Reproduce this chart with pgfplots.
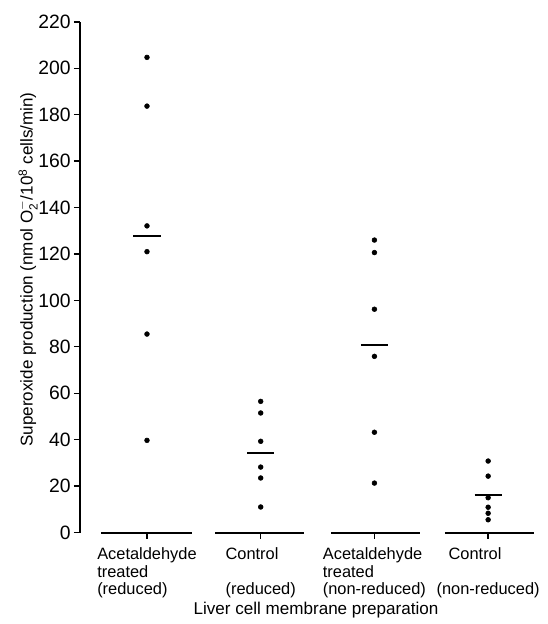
\documentclass[border=0pt]{standalone}
\usepackage{pgfplots}
\pgfplotsset{compat=1.18}
\usepackage{fontspec}
\setmainfont{Liberation Sans}
\begin{document}
\begin{tikzpicture}
\path[use as bounding box] (-60pt,-68.6pt) rectangle (351pt,399.4pt);
\begin{axis}[
    at={(0,0)}, anchor=south west,
    scale only axis,
    width=345pt, height=383pt,
    xmin=-0.589, xmax=3.456,
    ymin=0, ymax=220,
    axis lines*=left,
    x axis line style={draw=none},
    y axis line style={line width=1.6pt},
    tick align=outside,
    major tick length=4.5pt,
    tick style={black, line width=1pt},
    ytick={0,20,...,220},
    xtick={0,1,2,3},
    xticklabels={
        {Acetaldehyde\\treated\\(reduced)},
        {Control\\~\\(reduced)},
        {Acetaldehyde\\treated\\(non-reduced)},
        {\hspace*{9pt}Control\\~\\(non-reduced)}},
    xticklabel style={align=left, yshift=-3.5pt, font=\fontsize{12.3}{13.2}\selectfont},
    yticklabel style={xshift=1pt, font=\fontsize{14.5}{16}\selectfont},
    /pgf/number format/assume math mode=true,
    xlabel={Liver cell membrane preparation},
    ylabel={Superoxide production (nmol O$_{\mathrm{2}}^{-}$/10$^{\mathrm{8}}$ cells/min)},
    label style={font=\fontsize{12.8}{14}\selectfont},
    xlabel style={at={(rel axis cs:0.513,-0.152)}, anchor=center},
    ylabel style={at={(rel axis cs:-0.113,0.515)}, anchor=center},
    clip=false,
]
% baselines of each group
\addplot[black, line width=1.5pt] coordinates {(-0.4,0) (0.4,0)};
\addplot[black, line width=1.5pt] coordinates {(0.6,0) (1.38,0)};
\addplot[black, line width=1.5pt] coordinates {(1.62,0) (2.4,0)};
\addplot[black, line width=1.5pt] coordinates {(2.62,0) (3.4,0)};

% individual values
\addplot[only marks, mark=*, mark size=1.8pt, black] coordinates {
    (0,204.7) (0,183.7) (0,132.1) (0,121.0) (0,85.5) (0,39.7)
    (1,56.5) (1,51.5) (1,39.3) (1,28.2) (1,23.5) (1,11.0)
    (2,126.0) (2,120.6) (2,96.2) (2,75.9) (2,43.2) (2,21.3)
    (3,30.8) (3,24.3) (3,15.0) (3,10.9) (3,8.3) (3,5.5)
};

% means
\addplot[black, line width=1.3pt] coordinates {(-0.12,127.7) (0.12,127.7)};
\addplot[black, line width=1.3pt] coordinates {(0.88,34.4) (1.12,34.4)};
\addplot[black, line width=1.3pt] coordinates {(1.88,80.7) (2.12,80.7)};
\addplot[black, line width=1.3pt] coordinates {(2.88,16.2) (3.12,16.2)};
\end{axis}
\end{tikzpicture}
\end{document}
